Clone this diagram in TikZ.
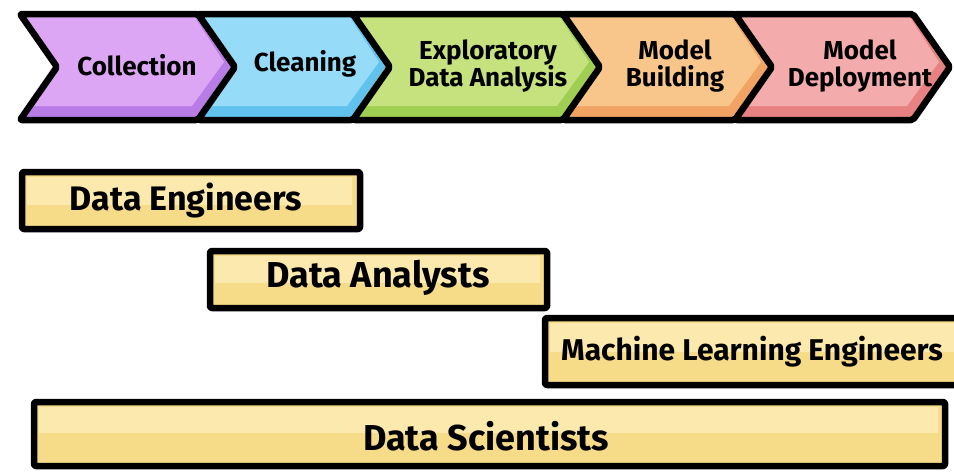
\documentclass[tikz,border=0pt]{standalone}
\usepackage{fontspec}
\setmainfont{Fira Sans}
\definecolor{purL}{HTML}{DCA6F4}\definecolor{purD}{HTML}{B97CE6}
\definecolor{bluL}{HTML}{96DCF8}\definecolor{bluD}{HTML}{62C2EE}
\definecolor{grnL}{HTML}{C6E27E}\definecolor{grnD}{HTML}{9ECE52}
\definecolor{orgL}{HTML}{F8C68A}\definecolor{orgD}{HTML}{F0A362}
\definecolor{pnkL}{HTML}{F4ABAB}\definecolor{pnkD}{HTML}{E88282}
\definecolor{yelL}{HTML}{FBE9AE}\definecolor{yelD}{HTML}{F6DB88}
\tikzset{
  outline/.style={draw=black,line width=6.5pt,line join=round,rounded corners=2pt},
  chevtext/.style={font=\fontsize{26}{27}\selectfont\bfseries,align=center,text=black,inner sep=0pt},
  bartext/.style={text=black,inner sep=0pt},
}
% chevron: #1 left x, #2 right x, #3 light, #4 dark
\newcommand{\mychev}[4]{%
  \fill[#4] (#1,14) -- (#2,14) -- ({#2+37},67) -- (#2,120) -- (#1,120) -- ({#1+37},67) -- cycle;
  \fill[#3] (#1+2,16) -- (#2-4,16) -- ({#2+26},62) -- ({#2-6},106) -- (#1+6,106) -- ({#1+36},62) -- cycle;
  \draw[outline] (#1,14) -- (#2,14) -- ({#2+37},67) -- (#2,120) -- (#1,120) -- ({#1+37},67) -- cycle;
}
\begin{document}
\begin{tikzpicture}[x=1pt,y=-1pt]
\fill[white] (0,0) rectangle (954,474);
\useasboundingbox (0,0) rectangle (954,474);
\mychev{20}{198}{purL}{purD}
\mychev{198}{353}{bluL}{bluD}
\mychev{353}{563}{grnL}{grnD}
\mychev{563}{735}{orgL}{orgD}
\mychev{735}{913}{pnkL}{pnkD}
\node[chevtext] (collection) at (137,65) {Collection};
\node[chevtext] (cleaning) at (305,64) {Cleaning};
\node[chevtext] (eda) at (488,66) {Exploratory\\Data Analysis};
\node[chevtext] (building) at (675,66) {Model\\Building};
\node[chevtext] (deployment) at (860,66) {Model\\Deployment};
% bars
\fill[yelD] (22,172) rectangle (360,229);
\fill[yelL] (27,177) rectangle (352,205);
\draw[outline] (22,172) rectangle (360,229);
\node[bartext,font=\fontsize{34}{36}\selectfont\bfseries] (de) at (186,200) {Data Engineers};
\fill[yelD] (210,251) rectangle (547,308);
\fill[yelL] (215,256) rectangle (540,283);
\draw[outline] (210,251) rectangle (547,308);
\node[bartext,font=\fontsize{36}{38}\selectfont\bfseries] (da) at (378,278) {Data Analysts};
\fill[yelD] (545,318) rectangle (960,385);
\fill[yelL] (550,323) rectangle (955,352);
\draw[outline] (545,318) rectangle (960,385);
\node[bartext,font=\fontsize{30}{32}\selectfont\bfseries] (mle) at (752,352) {Machine Learning Engineers};
\fill[yelD] (34,402) rectangle (945,466);
\fill[yelL] (39,407) rectangle (938,433);
\draw[outline] (34,402) rectangle (945,466);
\node[bartext,font=\fontsize{36}{38}\selectfont\bfseries] (ds) at (486,436) {Data Scientists};
\end{tikzpicture}
\end{document}
